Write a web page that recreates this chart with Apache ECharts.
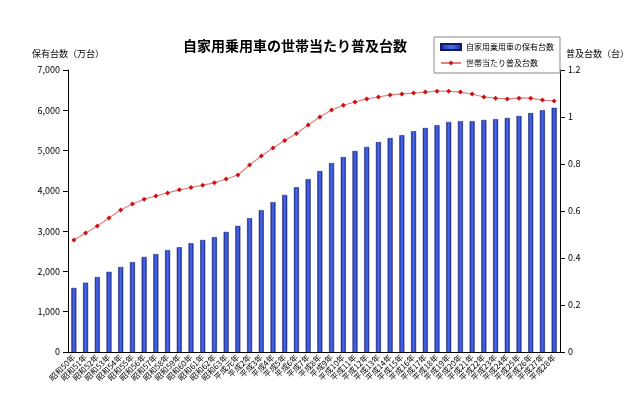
<!DOCTYPE html>
<html><head><meta charset="utf-8">
<script src="https://cdn.jsdelivr.net/npm/echarts@6/dist/echarts.min.js"></script>
<style>html,body{margin:0;background:#fff}#c{width:640px;height:403px}</style>
</head><body><div id="c"></div>
<script>
const showa = ['50','51','52','53','54','55','56','57','58','59','60','61','62','63'].map(s => '昭和' + s + '年')
const heisei = ['元'].concat(Array.from({ length: 27 }, (_, i) => String(i + 2))).map(s => '平成' + s + '年')
const categories = showa.concat(heisei)
const cars = [1590, 1720, 1860, 1990, 2110, 2230, 2360, 2430, 2530, 2600, 2700, 2780, 2850, 2980,
  3130, 3320, 3520, 3720, 3900, 4090, 4290, 4490, 4690, 4840, 4990, 5090, 5210, 5310, 5380, 5480,
  5560, 5630, 5710, 5730, 5730, 5760, 5780, 5810, 5860, 5930, 6000, 6060]
const perHousehold = [0.477, 0.506, 0.536, 0.57, 0.604, 0.63, 0.65, 0.664, 0.677, 0.69, 0.70, 0.71, 0.72, 0.736,
  0.753, 0.796, 0.834, 0.868, 0.90, 0.93, 0.966, 1.0, 1.03, 1.05, 1.064, 1.077, 1.085, 1.094, 1.098, 1.102,
  1.106, 1.11, 1.11, 1.106, 1.098, 1.085, 1.08, 1.077, 1.08, 1.08, 1.072, 1.068]

const font = '"Noto Sans CJK JP", sans-serif'
const chart = echarts.init(document.getElementById('c'))
chart.setOption({
  animation: false,
  textStyle: { fontFamily: font },
  title: { text: '自家用乗用車の世帯当たり普及台数', left: 290, top: 34, textAlign: 'center',
    textStyle: { fontSize: 14, fontWeight: 'bold', color: '#000', fontFamily: font } },
  legend: {
    orient: 'vertical', left: 434, top: 37, itemGap: 8, itemWidth: 20, itemHeight: 6,
    borderColor: '#888', borderWidth: 1, borderRadius: 0, padding: [6, 6],
    textStyle: { fontSize: 8, color: '#000' },
    data: [{ name: '自家用乗用車の保有台数', icon: 'rect' }, { name: '世帯当たり普及台数' }]
  },
  grid: { left: 68, right: 80, top: 70, bottom: 51 },
  xAxis: {
    type: 'category', data: categories,
    axisLine: { lineStyle: { color: '#000' } },
    axisTick: { show: false },
    axisLabel: { rotate: 45, interval: 0, fontSize: 8, color: '#000', margin: 4 }
  },
  yAxis: [{
    type: 'value', min: 0, max: 7000, interval: 1000, name: '保有台数（万台）',
    nameLocation: 'end', nameGap: 12, nameTextStyle: { fontSize: 9, color: '#000', align: 'center' },
    axisLine: { show: true, lineStyle: { color: '#000' } }, axisTick: { show: true },
    axisLabel: { fontSize: 9, color: '#000', formatter: v => v.toLocaleString('en-US') },
    splitLine: { show: false }
  }, {
    type: 'value', min: 0, max: 1.2, interval: 0.2, name: '普及台数（台）',
    nameLocation: 'end', nameGap: 12, nameTextStyle: { fontSize: 9, color: '#000', align: 'left', padding: [0, 0, 0, 6] },
    axisLine: { show: true, lineStyle: { color: '#000' } }, axisTick: { show: true },
    axisLabel: { fontSize: 9, color: '#000', formatter: v => String(+v.toFixed(1)) },
    splitLine: { show: false }
  }],
  series: [{
    name: '自家用乗用車の保有台数', type: 'bar', data: cars, barWidth: 5,
    itemStyle: {
      color: new echarts.graphic.LinearGradient(0, 0, 1, 0, [
        { offset: 0, color: '#1a2a9a' }, { offset: 0.5, color: '#4a6cf0' }, { offset: 1, color: '#1a2a9a' }]),
      borderColor: '#101860', borderWidth: 0.5
    }
  }, {
    name: '世帯当たり普及台数', type: 'line', yAxisIndex: 1, data: perHousehold,
    symbol: 'diamond', symbolSize: 5, lineStyle: { color: '#e08080', width: 1.2 },
    itemStyle: { color: '#d01010' }
  }]
})
</script></body></html>
